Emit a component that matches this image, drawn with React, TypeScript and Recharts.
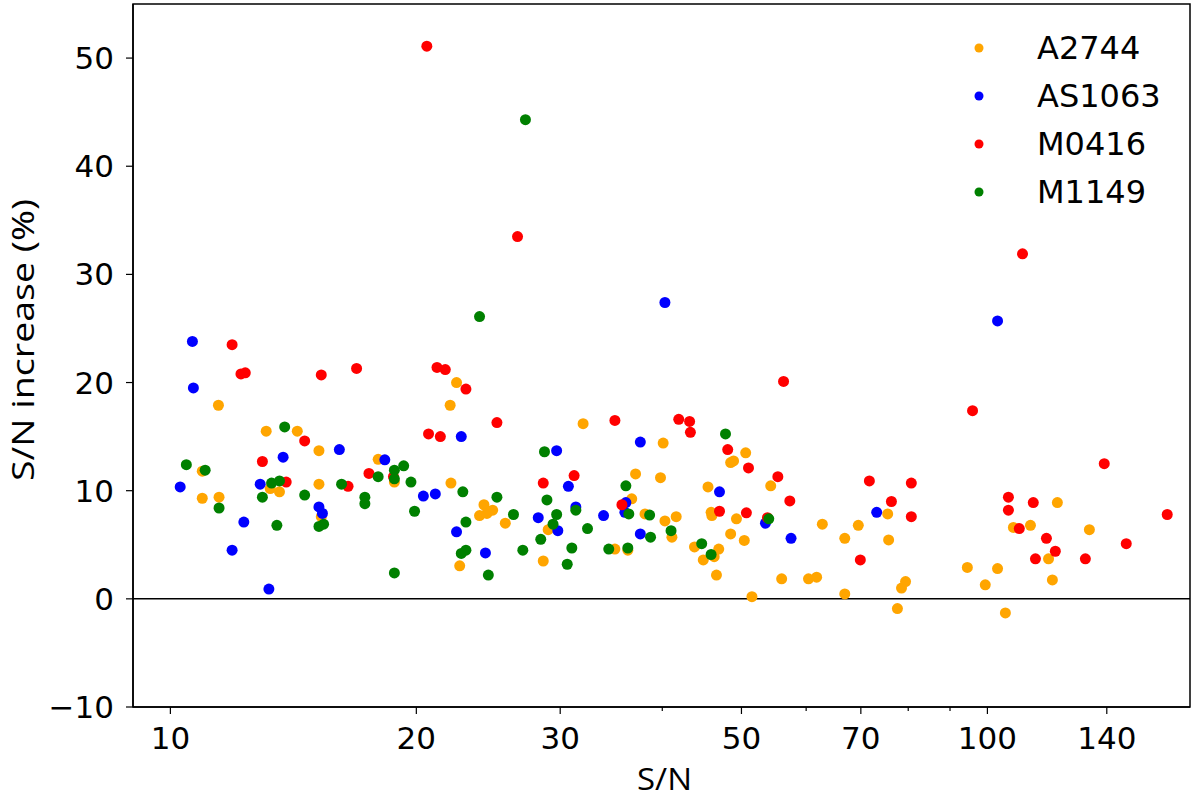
import { ScatterChart, Scatter, XAxis, YAxis, ReferenceLine, ReferenceArea, Legend, Label } from 'recharts';

// S/N vs S/N increase, one [S/N, increase %] pair per source
const A2744: [number, number][] = [
  [11.45, 17.9], [13.1, 15.5], [14.3, 15.5], [15.2, 13.7], [17.96, 12.9], [10.94, 11.8],
  [10.94, 9.3], [11.47, 9.4], [13.25, 10.2], [13.6, 9.9], [15.2, 10.6], [15.3, 7.6],
  [22.4, 20.0], [22.0, 17.9], [32.0, 16.2], [18.8, 10.8], [22.05, 10.7], [24.2, 8.7],
  [23.9, 7.7], [24.4, 7.9], [24.8, 8.2], [25.7, 7.0], [29.0, 6.4], [22.6, 3.05],
  [28.6, 3.5], [40.1, 14.4], [50.6, 13.5], [48.5, 12.6], [48.9, 12.75], [37.1, 11.55],
  [39.8, 11.2], [45.5, 10.35], [54.3, 10.45], [36.7, 9.25], [38.1, 7.85], [40.3, 7.2],
  [41.6, 7.6], [41.1, 5.7], [35.0, 4.6], [36.3, 4.5], [45.9, 8.0], [46.0, 7.7],
  [49.3, 7.4], [48.5, 6.0], [50.4, 5.4], [43.8, 4.8], [46.9, 4.6], [46.3, 3.9],
  [44.9, 3.6], [46.6, 2.2], [56.0, 1.85], [51.5, 0.2], [75.5, 7.85], [62.8, 6.9],
  [69.5, 6.8], [66.9, 5.6], [75.7, 5.45], [60.4, 1.85], [61.8, 2.0], [66.9, 0.45],
  [79.4, 1.6], [78.5, 1.0], [77.6, -0.9], [94.5, 2.9], [99.4, 1.3], [102.9, 2.8],
  [105.2, -1.3], [121.8, 8.9], [107.6, 6.6], [112.9, 6.8], [133.3, 6.4], [118.8, 3.7],
  [120.1, 1.75],
];

const AS1063: [number, number][] = [
  [10.64, 23.8], [10.67, 19.5], [16.1, 13.8], [13.74, 13.1], [10.28, 10.35], [12.88, 10.6],
  [15.2, 8.5], [15.35, 7.9], [12.3, 7.1], [11.9, 4.5], [13.2, 0.9], [22.7, 15.0],
  [18.3, 12.85], [29.7, 13.7], [30.7, 10.4], [20.4, 9.5], [21.1, 9.7], [31.35, 8.5],
  [22.4, 6.2], [28.2, 7.5], [29.8, 6.3], [24.3, 4.25], [37.6, 14.5], [47.0, 9.9],
  [36.1, 8.9], [36.0, 8.0], [33.9, 7.7], [37.6, 6.0], [53.5, 7.0], [57.5, 5.6],
  [102.9, 25.7], [73.2, 8.0], [40.3, 27.4],
];

const M0416: [number, number][] = [
  [11.9, 23.5], [12.2, 20.8], [12.35, 20.9], [14.6, 14.6], [12.96, 12.7], [17.5, 11.6],
  [13.86, 10.8], [16.5, 10.4], [15.3, 20.7], [16.9, 21.3], [21.2, 21.4], [21.7, 21.2],
  [23.0, 19.4], [25.1, 16.3], [20.7, 15.25], [21.4, 15.0], [18.75, 11.3], [28.6, 10.7],
  [31.2, 11.4], [35.0, 16.5], [41.9, 16.6], [43.2, 16.4], [43.3, 15.4], [56.3, 20.1],
  [48.1, 13.8], [51.0, 12.1], [55.4, 11.3], [57.3, 9.05], [35.7, 8.7], [47.0, 8.1],
  [50.7, 7.95], [53.8, 7.5], [95.9, 17.4], [71.7, 10.9], [80.7, 10.7], [76.3, 9.0],
  [80.7, 7.6], [69.9, 3.6], [106.1, 9.4], [106.1, 8.2], [110.4, 31.9], [139, 12.5],
  [113.8, 8.9], [109.4, 6.5], [118.1, 5.6], [121.1, 4.4], [114.5, 3.7], [131.8, 3.7],
  [147.9, 5.1], [166, 7.8], [20.6, 51.1], [26.6, 33.5],
];

const M1149: [number, number][] = [
  [13.8, 15.9], [10.46, 12.4], [11.03, 11.9], [17.96, 11.3], [11.47, 8.4], [13.3, 10.7],
  [13.6, 10.9], [12.96, 9.4], [14.6, 9.6], [16.2, 10.6], [17.3, 9.4], [17.3, 8.8],
  [15.2, 6.7], [15.4, 6.9], [13.5, 6.8], [23.9, 26.1], [28.7, 13.6], [19.3, 12.3],
  [18.8, 11.9], [18.8, 11.1], [19.7, 10.8], [22.8, 9.9], [25.1, 9.4], [28.9, 9.15],
  [31.35, 8.2], [19.9, 8.1], [26.3, 7.8], [23.0, 7.1], [29.7, 7.8], [29.4, 6.9],
  [28.4, 5.5], [32.4, 6.5], [31.0, 4.7], [23.0, 4.5], [22.7, 4.2], [27.0, 4.5],
  [30.6, 3.2], [18.8, 2.4], [24.5, 2.2], [47.8, 15.25], [36.1, 10.45], [36.4, 7.85],
  [38.6, 7.75], [41.0, 6.3], [38.7, 5.7], [34.4, 4.6], [36.3, 4.7], [54.0, 7.4],
  [44.7, 5.1], [45.9, 4.1], [27.2, 44.3],
];

const X_DOMAIN: [number, number] = [9, 177];
const Y_DOMAIN: [number, number] = [-10, 55];
const X_TICKS = [10, 20, 30, 40, 50, 60, 70, 80, 90, 100, 140];
const X_LABELED = [10, 20, 30, 50, 70, 100, 140];
const Y_TICKS = [-10, 0, 10, 20, 30, 40, 50];

const SERIES = [
  { name: 'A2744', color: '#ffa500', points: A2744 },
  { name: 'AS1063', color: '#0000ff', points: AS1063 },
  { name: 'M0416', color: '#ff0000', points: M0416 },
  { name: 'M1149', color: '#008000', points: M1149 },
];

const TICK_FONT = 'DejaVu Sans';

function XTick(props: any) {
  const { x, y, payload } = props;
  const major = X_LABELED.includes(payload.value);
  return (
    <g>
      <line x1={x} x2={x} y1={y} y2={y + (major ? 7 : 4)} stroke="#000" strokeWidth={1.2} />
      {major && (
        <text x={x} y={y + 42} textAnchor="middle" fontSize={31} fontFamily={TICK_FONT} fill="#000">
          {payload.value}
        </text>
      )}
    </g>
  );
}

function XTitle(props: any) {
  const { x, y, width } = props.viewBox;
  return (
    <text x={x + width / 2 + 3} y={y + 83} textAnchor="middle" fontSize={31} fontFamily="Open Sans"
      textLength={55} lengthAdjust="spacingAndGlyphs" fill="#000">
      S/N
    </text>
  );
}

function YTitle(props: any) {
  const { x } = props.viewBox;
  const cx = x + 22;
  const cy = 340;
  return (
    <text x={cx} y={cy} textAnchor="middle" dominantBaseline="central" fontSize={31} fontFamily="Open Sans"
      textLength={282} lengthAdjust="spacingAndGlyphs" transform={`rotate(-90, ${cx}, ${cy})`} fill="#000">
      S/N increase (%)
    </text>
  );
}

function LegendBox() {
  return (
    <div style={{ fontFamily: TICK_FONT, fontSize: 32, color: '#000' }}>
      {SERIES.map((s) => (
        <div key={s.name} style={{ display: 'flex', alignItems: 'center', height: 48 }}>
          <svg width={12} height={12}>
            <circle cx={6} cy={6} r={4.5} fill={s.color} />
          </svg>
          <span style={{ marginLeft: 52, lineHeight: '48px' }}>{s.name}</span>
        </div>
      ))}
    </div>
  );
}

export default function App() {
  return (
    <div style={{ position: 'absolute', left: 0, top: 0, width: 1200, height: 800, background: '#fff' }}>
      <ScatterChart width={1200} height={800} margin={{ top: 4, right: 10, bottom: 0, left: 0 }}>
        <XAxis
          dataKey="x"
          type="number"
          scale="log"
          domain={X_DOMAIN}
          allowDataOverflow
          ticks={X_TICKS}
          interval={0}
          tick={<XTick />}
          tickLine={false}
          tickSize={0}
          tickMargin={0}
          height={93}
          axisLine={{ stroke: '#000', strokeWidth: 1.5 }}
        >
          <Label content={<XTitle />} />
        </XAxis>
        <YAxis
          dataKey="y"
          type="number"
          domain={Y_DOMAIN}
          allowDataOverflow
          ticks={Y_TICKS}
          interval={0}
          width={133}
          tickSize={7}
          tickMargin={12}
          tickFormatter={(v: number) => (v < 0 ? '\u2212' + Math.abs(v) : String(v))}
          tick={{ fontSize: 31, fontFamily: TICK_FONT, fill: '#000' }}
          tickLine={{ stroke: '#000', strokeWidth: 1.2 }}
          axisLine={{ stroke: '#000', strokeWidth: 1.5 }}
        >
          <Label content={<YTitle />} />
        </YAxis>
        {/* axes frame (top and right spines) */}
        <ReferenceArea
          x1={X_DOMAIN[0]}
          x2={X_DOMAIN[1]}
          y1={Y_DOMAIN[0]}
          y2={Y_DOMAIN[1]}
          fill="none"
          fillOpacity={0}
          stroke="#000"
          strokeWidth={1.5}
          ifOverflow="visible"
        />
        <ReferenceLine y={0} stroke="#000" strokeWidth={1.5} />
        {SERIES.map((s) => (
          <Scatter
            key={s.name}
            name={s.name}
            data={s.points.map(([x, y]) => ({ x, y }))}
            fill={s.color}
            isAnimationActive={false}
            shape={(p: any) => <circle cx={p.cx} cy={p.cy} r={5.5} fill={s.color} />}
          />
        ))}
        <Legend
          layout="vertical"
          align="center"
          verticalAlign="middle"
          content={() => <LegendBox />}
          wrapperStyle={{ left: 973, top: 24, width: 'auto' }}
        />
      </ScatterChart>
    </div>
  );
}
